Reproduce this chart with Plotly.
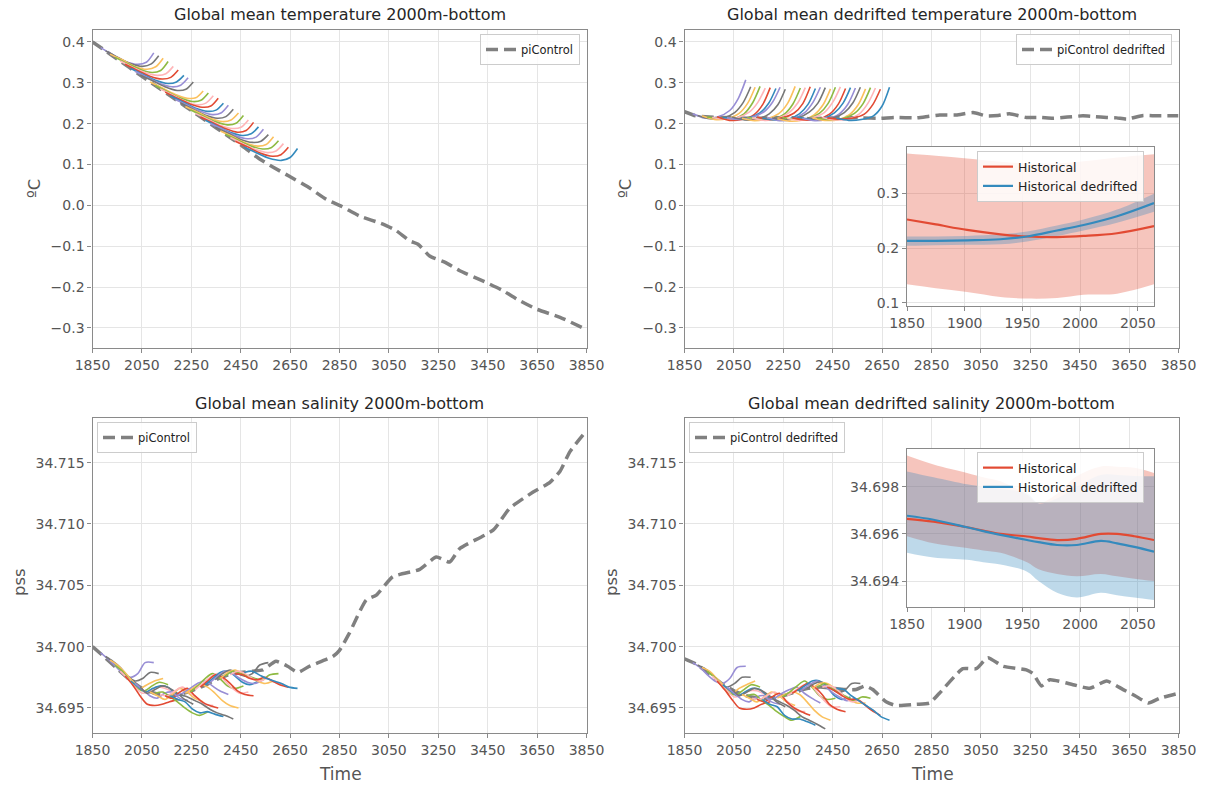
import plotly.graph_objects as go

# ---------------- data ----------------
BRANCH_YEARS = [1883, 1903, 1921, 1941, 1962, 1982, 2005, 2022, 2043, 2083, 2104, 2124, 2144, 2165,
                2185, 2205, 2226, 2246, 2266, 2287, 2307, 2327, 2347, 2368, 2388, 2408, 2428, 2465]
OFFSETS_T = [0, 50, 100, 150, 185, 215]
OFFSETS_S = [0, 30, 60, 90, 120, 150, 180, 215]

MEMBERS_TEMP = [
    [0.386, 0.368, 0.352, 0.345, 0.350, 0.373],
    [0.378, 0.362, 0.347, 0.340, 0.346, 0.366],
    [0.370, 0.356, 0.340, 0.333, 0.339, 0.360],
    [0.362, 0.347, 0.333, 0.325, 0.330, 0.352],
    [0.353, 0.338, 0.325, 0.318, 0.322, 0.340],
    [0.345, 0.330, 0.316, 0.309, 0.313, 0.331],
    [0.335, 0.320, 0.306, 0.298, 0.302, 0.318],
    [0.328, 0.313, 0.298, 0.290, 0.294, 0.312],
    [0.319, 0.305, 0.290, 0.281, 0.284, 0.302],
    [0.302, 0.287, 0.272, 0.262, 0.263, 0.280],
    [0.293, 0.278, 0.263, 0.254, 0.257, 0.275],
    [0.285, 0.270, 0.255, 0.246, 0.250, 0.268],
    [0.277, 0.262, 0.248, 0.240, 0.243, 0.262],
    [0.268, 0.253, 0.238, 0.230, 0.233, 0.250],
    [0.259, 0.245, 0.231, 0.222, 0.226, 0.245],
    [0.251, 0.236, 0.221, 0.213, 0.217, 0.235],
    [0.242, 0.228, 0.213, 0.205, 0.209, 0.226],
    [0.234, 0.219, 0.205, 0.197, 0.201, 0.220],
    [0.225, 0.211, 0.196, 0.188, 0.191, 0.209],
    [0.216, 0.202, 0.188, 0.179, 0.183, 0.203],
    [0.208, 0.193, 0.179, 0.171, 0.175, 0.192],
    [0.200, 0.186, 0.171, 0.163, 0.167, 0.186],
    [0.191, 0.177, 0.162, 0.154, 0.157, 0.173],
    [0.182, 0.168, 0.153, 0.145, 0.149, 0.168],
    [0.174, 0.160, 0.146, 0.138, 0.141, 0.158],
    [0.166, 0.151, 0.137, 0.129, 0.133, 0.151],
    [0.157, 0.143, 0.128, 0.120, 0.124, 0.142],
    [0.142, 0.128, 0.115, 0.110, 0.117, 0.139],
]

MEMBERS_TEMP_DEDRIFT = [
    [0.224, 0.214, 0.216, 0.232, 0.262, 0.307],
    [0.220, 0.212, 0.213, 0.227, 0.252, 0.290],
    [0.219, 0.210, 0.212, 0.225, 0.250, 0.289],
    [0.216, 0.213, 0.211, 0.224, 0.251, 0.291],
    [0.215, 0.211, 0.214, 0.228, 0.252, 0.287],
    [0.217, 0.208, 0.210, 0.222, 0.247, 0.288],
    [0.215, 0.212, 0.213, 0.226, 0.249, 0.286],
    [0.214, 0.210, 0.215, 0.229, 0.253, 0.289],
    [0.216, 0.209, 0.211, 0.224, 0.246, 0.284],
    [0.213, 0.207, 0.212, 0.225, 0.250, 0.291],
    [0.215, 0.211, 0.209, 0.223, 0.248, 0.287],
    [0.214, 0.208, 0.212, 0.227, 0.251, 0.288],
    [0.216, 0.210, 0.214, 0.226, 0.249, 0.290],
    [0.213, 0.209, 0.210, 0.224, 0.247, 0.286],
    [0.215, 0.207, 0.211, 0.226, 0.252, 0.289],
    [0.214, 0.210, 0.213, 0.228, 0.250, 0.288],
    [0.212, 0.206, 0.209, 0.222, 0.246, 0.285],
    [0.215, 0.211, 0.212, 0.225, 0.249, 0.289],
    [0.213, 0.208, 0.214, 0.227, 0.253, 0.290],
    [0.214, 0.209, 0.210, 0.223, 0.247, 0.286],
    [0.216, 0.211, 0.212, 0.226, 0.250, 0.288],
    [0.213, 0.207, 0.211, 0.224, 0.248, 0.287],
    [0.215, 0.210, 0.213, 0.227, 0.251, 0.289],
    [0.214, 0.208, 0.209, 0.222, 0.246, 0.285],
    [0.213, 0.210, 0.212, 0.225, 0.249, 0.288],
    [0.215, 0.209, 0.211, 0.224, 0.250, 0.287],
    [0.214, 0.211, 0.213, 0.223, 0.247, 0.284],
    [0.213, 0.208, 0.210, 0.219, 0.243, 0.289],
]

MEMBERS_SAL = [
    [34.6995, 34.6990, 34.6984, 34.6978, 34.6975, 34.6978, 34.6987, 34.6987],
    [34.6992, 34.6988, 34.6983, 34.6976, 34.6972, 34.6974, 34.6979, 34.6978],
    [34.6989, 34.6985, 34.6979, 34.6972, 34.6966, 34.6969, 34.6972, 34.6974],
    [34.6985, 34.6980, 34.6972, 34.6966, 34.6964, 34.6968, 34.6971, 34.6969],
    [34.6980, 34.6974, 34.6967, 34.6962, 34.6964, 34.6967, 34.6966, 34.6963],
    [34.6976, 34.6969, 34.6960, 34.6953, 34.6952, 34.6953, 34.6955, 34.6957],
    [34.6972, 34.6967, 34.6963, 34.6966, 34.6968, 34.6967, 34.6962, 34.6960],
    [34.6970, 34.6965, 34.6960, 34.6958, 34.6962, 34.6963, 34.6958, 34.6956],
    [34.6967, 34.6962, 34.6965, 34.6968, 34.6966, 34.6962, 34.6957, 34.6953],
    [34.6963, 34.6960, 34.6957, 34.6961, 34.6966, 34.6963, 34.6958, 34.6955],
    [34.6962, 34.6963, 34.6959, 34.6955, 34.6950, 34.6946, 34.6944, 34.6947],
    [34.6961, 34.6960, 34.6964, 34.6967, 34.6963, 34.6958, 34.6953, 34.6952],
    [34.6960, 34.6958, 34.6963, 34.6966, 34.6960, 34.6955, 34.6952, 34.6950],
    [34.6960, 34.6957, 34.6955, 34.6949, 34.6946, 34.6947, 34.6945, 34.6943],
    [34.6960, 34.6962, 34.6966, 34.6970, 34.6972, 34.6968, 34.6964, 34.6961],
    [34.6961, 34.6959, 34.6956, 34.6953, 34.6949, 34.6946, 34.6944, 34.6941],
    [34.6962, 34.6966, 34.6969, 34.6967, 34.6962, 34.6956, 34.6952, 34.6950],
    [34.6963, 34.6968, 34.6974, 34.6978, 34.6974, 34.6968, 34.6966, 34.6968],
    [34.6965, 34.6970, 34.6975, 34.6978, 34.6972, 34.6966, 34.6962, 34.6963],
    [34.6967, 34.6972, 34.6977, 34.6975, 34.6970, 34.6964, 34.6961, 34.6960],
    [34.6969, 34.6974, 34.6979, 34.6980, 34.6976, 34.6971, 34.6969, 34.6972],
    [34.6971, 34.6976, 34.6980, 34.6978, 34.6974, 34.6971, 34.6970, 34.6973],
    [34.6973, 34.6978, 34.6981, 34.6978, 34.6976, 34.6978, 34.6985, 34.6987],
    [34.6974, 34.6979, 34.6981, 34.6978, 34.6975, 34.6972, 34.6970, 34.6972],
    [34.6976, 34.6980, 34.6978, 34.6976, 34.6974, 34.6973, 34.6977, 34.6978],
    [34.6977, 34.6980, 34.6978, 34.6974, 34.6972, 34.6974, 34.6971, 34.6969],
    [34.6978, 34.6977, 34.6974, 34.6973, 34.6975, 34.6972, 34.6969, 34.6967],
    [34.6979, 34.6980, 34.6977, 34.6974, 34.6972, 34.6970, 34.6967, 34.6966],
]

MEMBERS_SAL_DEDRIFT = [
    [34.6987, 34.6983, 34.6977, 34.6972, 34.6970, 34.6974, 34.6983, 34.6984],
    [34.6985, 34.6982, 34.6977, 34.6971, 34.6967, 34.6970, 34.6975, 34.6975],
    [34.6983, 34.6980, 34.6974, 34.6968, 34.6962, 34.6966, 34.6969, 34.6972],
    [34.6980, 34.6975, 34.6968, 34.6962, 34.6961, 34.6965, 34.6969, 34.6967],
    [34.6976, 34.6970, 34.6964, 34.6959, 34.6961, 34.6964, 34.6964, 34.6961],
    [34.6972, 34.6965, 34.6957, 34.6950, 34.6949, 34.6950, 34.6953, 34.6955],
    [34.6969, 34.6964, 34.6960, 34.6963, 34.6966, 34.6965, 34.6960, 34.6958],
    [34.6967, 34.6962, 34.6957, 34.6955, 34.6959, 34.6960, 34.6955, 34.6953],
    [34.6965, 34.6960, 34.6963, 34.6966, 34.6964, 34.6960, 34.6955, 34.6951],
    [34.6961, 34.6958, 34.6955, 34.6959, 34.6963, 34.6960, 34.6955, 34.6952],
    [34.6960, 34.6961, 34.6956, 34.6952, 34.6947, 34.6943, 34.6940, 34.6943],
    [34.6958, 34.6957, 34.6960, 34.6963, 34.6959, 34.6954, 34.6948, 34.6947],
    [34.6957, 34.6955, 34.6959, 34.6962, 34.6955, 34.6950, 34.6947, 34.6944],
    [34.6957, 34.6953, 34.6951, 34.6944, 34.6941, 34.6941, 34.6939, 34.6936],
    [34.6957, 34.6958, 34.6962, 34.6965, 34.6967, 34.6962, 34.6958, 34.6954],
    [34.6958, 34.6955, 34.6952, 34.6948, 34.6943, 34.6940, 34.6937, 34.6933],
    [34.6958, 34.6961, 34.6963, 34.6961, 34.6955, 34.6948, 34.6943, 34.6940],
    [34.6959, 34.6963, 34.6968, 34.6972, 34.6967, 34.6960, 34.6957, 34.6958],
    [34.6960, 34.6964, 34.6968, 34.6970, 34.6963, 34.6956, 34.6951, 34.6951],
    [34.6962, 34.6966, 34.6970, 34.6967, 34.6961, 34.6953, 34.6949, 34.6947],
    [34.6964, 34.6968, 34.6972, 34.6972, 34.6967, 34.6960, 34.6957, 34.6959],
    [34.6965, 34.6969, 34.6972, 34.6968, 34.6963, 34.6959, 34.6956, 34.6958],
    [34.6966, 34.6970, 34.6971, 34.6967, 34.6963, 34.6964, 34.6970, 34.6970],
    [34.6966, 34.6970, 34.6970, 34.6966, 34.6961, 34.6957, 34.6954, 34.6954],
    [34.6967, 34.6970, 34.6966, 34.6962, 34.6959, 34.6956, 34.6959, 34.6958],
    [34.6967, 34.6968, 34.6965, 34.6959, 34.6955, 34.6956, 34.6951, 34.6947],
    [34.6967, 34.6964, 34.6960, 34.6957, 34.6957, 34.6953, 34.6948, 34.6944],
    [34.6966, 34.6965, 34.6960, 34.6956, 34.6952, 34.6948, 34.6943, 34.6940],
]

PIC_T_YEARS = [1850, 1900, 1950, 2000, 2050, 2100, 2150, 2200, 2250, 2300, 2350, 2400, 2450, 2525,
               2580, 2647, 2720, 2796, 2860, 2931, 3026, 3080, 3134, 3168, 3215, 3280, 3337, 3445,
               3510, 3567, 3648, 3743, 3850]
PIC_T = [0.400, 0.379, 0.358, 0.337, 0.316, 0.295, 0.274, 0.253, 0.232, 0.211, 0.190, 0.169, 0.148,
         0.114, 0.094, 0.071, 0.046, 0.015, -0.003, -0.026, -0.046, -0.062, -0.087, -0.095, -0.124,
         -0.140, -0.160, -0.189, -0.208, -0.229, -0.254, -0.274, -0.304]

PIC_TD_YEARS = [1850, 1895, 1950, 2050, 2150, 2250, 2350, 2450, 2504, 2571, 2639, 2700, 2788, 2840,
                2883, 2950, 3018, 3072, 3120, 3166, 3234, 3290, 3342, 3400, 3463, 3510, 3559, 3600,
                3640, 3707, 3760, 3850]
PIC_TD = [0.229, 0.219, 0.216, 0.214, 0.213, 0.215, 0.212, 0.214, 0.215, 0.214, 0.213, 0.215, 0.214,
          0.218, 0.221, 0.221, 0.227, 0.219, 0.220, 0.224, 0.215, 0.215, 0.213, 0.216, 0.219, 0.217,
          0.215, 0.214, 0.211, 0.220, 0.219, 0.219]

PIC_S_YEARS = [1850, 1890, 1950, 2000, 2050, 2100, 2150, 2200, 2250, 2300, 2350, 2400, 2450, 2500,
               2539, 2593, 2640, 2681, 2728, 2823, 2850, 2890, 2958, 2999, 3066, 3175, 3242, 3296,
               3337, 3472, 3540, 3634, 3702, 3743, 3783, 3850]
PIC_S = [34.7000, 34.6993, 34.6982, 34.6973, 34.6966, 34.6962, 34.6960, 34.6961, 34.6964, 34.6968,
         34.6973, 34.6977, 34.6979, 34.6980, 34.6981, 34.6988, 34.6984, 34.6979, 34.6984, 34.6992,
         34.6997, 34.7011, 34.7038, 34.7042, 34.7057, 34.7063, 34.7073, 34.7069, 34.7080, 34.7095,
         34.7113, 34.7126, 34.7134, 34.7143, 34.7159, 34.7176]

PIC_SD_YEARS = [1850, 1895, 1950, 2000, 2050, 2100, 2150, 2200, 2250, 2300, 2350, 2400, 2450, 2500,
                2545, 2580, 2612, 2666, 2707, 2788, 2842, 2882, 2977, 3031, 3078, 3139, 3234, 3261,
                3295, 3329, 3423, 3491, 3559, 3626, 3674, 3728, 3775, 3850]
PIC_SD = [34.6990, 34.6986, 34.6978, 34.6970, 34.6964, 34.6960, 34.6958, 34.6958, 34.6960, 34.6963,
          34.6966, 34.6967, 34.6966, 34.6965, 34.6965, 34.6968, 34.6965, 34.6955, 34.6952, 34.6953,
          34.6954, 34.6962, 34.6982, 34.6982, 34.6991, 34.6984, 34.6981, 34.6978, 34.6968, 34.6973,
          34.6969, 34.6966, 34.6972, 34.6965, 34.6960, 34.6954, 34.6958, 34.6962]

INSET_T_YEARS = [1850, 1875, 1902, 1931, 1954, 1980, 2003, 2032, 2064]
HIST_T = [0.252, 0.243, 0.233, 0.225, 0.221, 0.220, 0.222, 0.227, 0.240]
HIST_T_UP = [0.372, 0.368, 0.363, 0.357, 0.354, 0.354, 0.358, 0.365, 0.371]
HIST_T_LO = [0.134, 0.127, 0.120, 0.111, 0.108, 0.109, 0.115, 0.117, 0.134]
HISTD_T = [0.213, 0.213, 0.214, 0.216, 0.221, 0.232, 0.242, 0.258, 0.282]
HISTD_T_UP = [0.221, 0.221, 0.222, 0.225, 0.230, 0.241, 0.252, 0.270, 0.299]
HISTD_T_LO = [0.204, 0.205, 0.206, 0.207, 0.212, 0.222, 0.232, 0.246, 0.266]

INSET_S_YEARS = [1850, 1873, 1902, 1916, 1931, 1954, 1964, 1980, 1997, 2018, 2032, 2047, 2064]
HIST_S = [34.69664, 34.69652, 34.69628, 34.69614, 34.69600, 34.69589, 34.69582, 34.69574, 34.69579,
          34.69600, 34.69600, 34.69590, 34.69574]
HIST_S_UP = [34.69932, 34.69894, 34.69858, 34.69840, 34.69823, 34.69766, 34.69730, 34.69770, 34.69844,
             34.69886, 34.69885, 34.69880, 34.69858]
HIST_S_LO = [34.69590, 34.69560, 34.69540, 34.69530, 34.69520, 34.69480, 34.69450, 34.69430, 34.69420,
             34.69430, 34.69420, 34.69410, 34.69400]
HISTD_S = [34.69677, 34.69660, 34.69628, 34.69612, 34.69596, 34.69574, 34.69565, 34.69553, 34.69553,
           34.69570, 34.69560, 34.69545, 34.69525]
HISTD_S_UP = [34.69865, 34.69840, 34.69810, 34.69800, 34.69790, 34.69772, 34.69730, 34.69750, 34.69800,
              34.69850, 34.69850, 34.69845, 34.69844]
HISTD_S_LO = [34.69520, 34.69500, 34.69490, 34.69480, 34.69470, 34.69440, 34.69400, 34.69350, 34.69330,
              34.69350, 34.69340, 34.69330, 34.69320]

MAIN_XTICKS = [1850, 2050, 2250, 2450, 2650, 2850, 3050, 3250, 3450, 3650, 3850]
INSET_XTICKS = [1850, 1900, 1950, 2000, 2050]
TEMP_YTICKS = [-0.3, -0.2, -0.1, 0.0, 0.1, 0.2, 0.3, 0.4]
SAL_YTICKS = [34.695, 34.700, 34.705, 34.710, 34.715]
INSET_T_YTICKS = [0.1, 0.2, 0.3]
INSET_S_YTICKS = [34.694, 34.696, 34.698]

TITLES = ["Global mean temperature 2000m-bottom", "Global mean dedrifted temperature 2000m-bottom",
          "Global mean salinity 2000m-bottom", "Global mean dedrifted salinity 2000m-bottom"]

CYCLE = ["#E24A33", "#348ABD", "#988ED5", "#777777", "#FBC15E", "#8EBA42", "#FFB5B8"]
RED, BLUE = "#E24A33", "#348ABD"
FONT = "DejaVu Sans"
W, H = 1207, 785

fig = go.Figure()


def add_members(members, offsets, ax):
    for k, vals in enumerate(members):
        b = BRANCH_YEARS[k]
        fig.add_trace(go.Scatter(
            x=[b + o for o in offsets], y=vals, mode="lines",
            line=dict(color=CYCLE[(k + 2) % 7], width=1.6, shape="spline", smoothing=0.8),
            showlegend=False, hoverinfo="skip", xaxis="x" + ax, yaxis="y" + ax))


def add_pic(xs, ys, ax, name, legend):
    fig.add_trace(go.Scatter(
        x=xs, y=ys, mode="lines", name=name,
        line=dict(color="#808080", width=3.5, dash="12px,6px", shape="spline", smoothing=0.5),
        xaxis="x" + ax, yaxis="y" + ax, legend=legend))


add_pic(PIC_T_YEARS, PIC_T, "", "piControl", "legend")
add_members(MEMBERS_TEMP, OFFSETS_T, "")
add_pic(PIC_TD_YEARS, PIC_TD, "2", "piControl dedrifted", "legend2")
add_members(MEMBERS_TEMP_DEDRIFT, OFFSETS_T, "2")
add_pic(PIC_S_YEARS, PIC_S, "3", "piControl", "legend3")
add_members(MEMBERS_SAL, OFFSETS_S, "3")
add_pic(PIC_SD_YEARS, PIC_SD, "4", "piControl dedrifted", "legend4")
add_members(MEMBERS_SAL_DEDRIFT, OFFSETS_S, "4")


def add_inset(years, h, hu, hl, d, du, dl, ax, legend):
    for up, lo, col in [(hu, hl, "rgba(226,74,51,0.32)"), (du, dl, "rgba(52,138,189,0.32)")]:
        fig.add_trace(go.Scatter(x=years, y=up, mode="lines", line=dict(width=0, shape="spline"),
                                 showlegend=False, hoverinfo="skip", xaxis="x" + ax, yaxis="y" + ax))
        fig.add_trace(go.Scatter(x=years, y=lo, mode="lines", line=dict(width=0, shape="spline"),
                                 fill="tonexty", fillcolor=col, showlegend=False, hoverinfo="skip",
                                 xaxis="x" + ax, yaxis="y" + ax))
    fig.add_trace(go.Scatter(x=years, y=h, mode="lines", name="Historical",
                             line=dict(color=RED, width=2.2, shape="spline"),
                             xaxis="x" + ax, yaxis="y" + ax, legend=legend))
    fig.add_trace(go.Scatter(x=years, y=d, mode="lines", name="Historical dedrifted",
                             line=dict(color=BLUE, width=2.2, shape="spline"),
                             xaxis="x" + ax, yaxis="y" + ax, legend=legend))


add_inset(INSET_T_YEARS, HIST_T, HIST_T_UP, HIST_T_LO, HISTD_T, HISTD_T_UP, HISTD_T_LO, "5", "legend5")
add_inset(INSET_S_YEARS, HIST_S, HIST_S_UP, HIST_S_LO, HISTD_S, HISTD_S_UP, HISTD_S_LO, "6", "legend6")


def px_x(a, b):
    return [a / W, b / W]


def px_y(top, bottom):
    return [1 - bottom / H, 1 - top / H]


axis_common = dict(showline=True, linecolor="#8a8a8a", linewidth=1.3, mirror=True,
                   showgrid=True, gridcolor="#e5e5e5", gridwidth=1, zeroline=False,
                   ticks="outside", ticklen=4, tickwidth=1, tickcolor="#8a8a8a", automargin=False,
                   tickfont=dict(family=FONT, size=14, color="#555555"))

LX = px_x(92.5, 586.5)
RX = px_x(684.5, 1178.5)
TY = px_y(30, 348)
BY = px_y(418, 733)
T_RANGE = [-0.349, 0.429]
S_RANGE = [34.69296, 34.71864]

layout_axes = {}
specs = [("", LX, TY, T_RANGE, TEMP_YTICKS, ".1f"),
         ("2", RX, TY, T_RANGE, TEMP_YTICKS, ".1f"),
         ("3", LX, BY, S_RANGE, SAL_YTICKS, ".3f"),
         ("4", RX, BY, S_RANGE, SAL_YTICKS, ".3f")]
for ax, dx, dy, yr, yt, fmt in specs:
    n = ax
    layout_axes["xaxis" + n] = dict(axis_common, domain=dx, range=[1850, 3850], tickvals=MAIN_XTICKS,
                                    anchor="y" + n)
    layout_axes["yaxis" + n] = dict(axis_common, domain=dy, range=yr, tickvals=yt, tickformat=fmt,
                                    anchor="x" + n)

IX = px_x(907, 1154)
layout_axes["xaxis5"] = dict(axis_common, domain=IX, range=[1850, 2064], tickvals=INSET_XTICKS, anchor="y5")
layout_axes["yaxis5"] = dict(axis_common, domain=px_y(147, 306), range=[0.0945, 0.384],
                             tickvals=INSET_T_YTICKS, tickformat=".1f", anchor="x5")
layout_axes["xaxis6"] = dict(axis_common, domain=IX, range=[1850, 2064], tickvals=INSET_XTICKS, anchor="y6")
layout_axes["yaxis6"] = dict(axis_common, domain=px_y(449, 607), range=[34.6929, 34.6996],
                             tickvals=INSET_S_YTICKS, tickformat=".3f", anchor="x6")

leg_common = dict(bgcolor="rgba(255,255,255,0.85)", bordercolor="#cccccc", borderwidth=1,
                  font=dict(family=FONT, size=11.5, color="#222222"), itemwidth=30,
                  tracegroupgap=0)
legends = dict(
    legend=dict(leg_common, x=580 / W, y=1 - 34 / H, xanchor="right", yanchor="top"),
    legend2=dict(leg_common, x=1172 / W, y=1 - 34 / H, xanchor="right", yanchor="top"),
    legend3=dict(leg_common, x=97 / W, y=1 - 422 / H, xanchor="left", yanchor="top"),
    legend4=dict(leg_common, x=689 / W, y=1 - 422 / H, xanchor="left", yanchor="top"),
    legend5=dict(leg_common, x=977 / W, y=1 - 151 / H, xanchor="left", yanchor="top",
                 font=dict(family=FONT, size=12.5, color="#222222")),
    legend6=dict(leg_common, x=977 / W, y=1 - 452 / H, xanchor="left", yanchor="top",
                 font=dict(family=FONT, size=12.5, color="#222222")),
)

annotations = []
title_pos = [((LX[0] + LX[1]) / 2, 1 - 15 / H), ((RX[0] + RX[1]) / 2, 1 - 15 / H),
             ((LX[0] + LX[1]) / 2, 1 - 403 / H), ((RX[0] + RX[1]) / 2, 1 - 403 / H)]
for t, (x, y) in zip(TITLES, title_pos):
    annotations.append(dict(text=t, x=x, y=y, xref="paper", yref="paper", showarrow=False,
                            font=dict(family=FONT, size=16, color="#262626"),
                            xanchor="center", yanchor="middle"))
ylabels = [("ºC", 35, 189), ("ºC", 626, 189), ("pss", 19, 582), ("pss", 611, 582)]
for t, x, y in ylabels:
    annotations.append(dict(text=t, x=x / W, y=1 - y / H, xref="paper", yref="paper", showarrow=False,
                            textangle=-90, font=dict(family=FONT, size=16.5, color="#555555"),
                            xanchor="center", yanchor="middle"))
for x in [340, 932]:
    annotations.append(dict(text="Time", x=x / W, y=1 - 774 / H, xref="paper", yref="paper",
                            showarrow=False, font=dict(family=FONT, size=17, color="#555555"),
                            xanchor="center", yanchor="middle"))

fig.update_layout(template="none", width=W, height=H, margin=dict(l=0, r=0, t=0, b=0, autoexpand=False),
                  paper_bgcolor="white", plot_bgcolor="white",
                  annotations=annotations, **layout_axes, **legends)

fig.write_html("out.html", config={"displayModeBar": False},
               post_script="document.body.style.margin='0px';document.body.style.padding='0px';"
                           "document.documentElement.style.overflow='hidden';")
